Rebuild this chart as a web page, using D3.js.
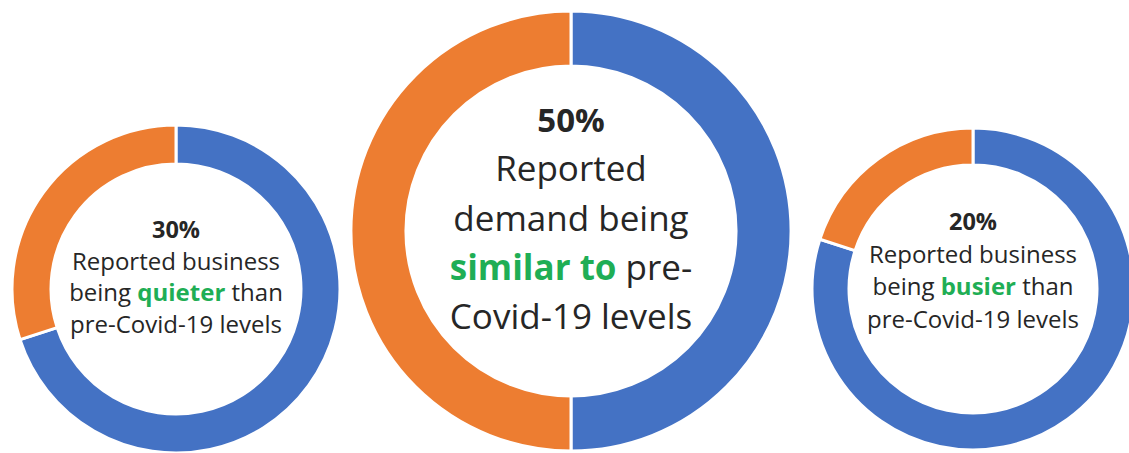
<!DOCTYPE html>
<html>
<head>
<meta charset="utf-8">
<script src="https://cdn.jsdelivr.net/npm/d3@7"></script>
<style>
  html, body { margin: 0; padding: 0; background: #ffffff; }
  svg { display: block; }
</style>
</head>
<body>
<svg id="chart" width="1129" height="453"></svg>
<script>
// Share of respondents per demand outcome (highlighted share vs the rest)
const outcomes = ["quieter", "similar", "busier"];
const highlighted = [30, 50, 20];
const rest = [70, 50, 80];
const headline = ["30%", "50%", "20%"];
// Label lines; the green keyword is wrapped in *...*
const labelLines = [
  ["Reported business", "being *quieter* than", "pre-Covid-19 levels"],
  ["Reported", "demand being", "*similar to* pre-", "Covid-19 levels"],
  ["Reported business", "being *busier* than", "pre-Covid-19 levels"]
];

const colors = { rest: "#4472C4", highlighted: "#ED7D31", keyword: "#1FAE55", text: "#262626" };

// Layout of each ring
const layout = [
  { cx: 176, cy: 289, rOuter: 164, rInner: 125, size: 24, bold: 23.5, base: 238, step: 31.5 },
  { cx: 571, cy: 231, rOuter: 220, rInner: 165, size: 35, bold: 33, base: 132, step: 49.3 },
  { cx: 973, cy: 289, rOuter: 161, rInner: 124, size: 24, bold: 23.5, base: 230, step: 32.7 }
];

const svg = d3.select("#chart");
const pie = d3.pie().sort(null).value(d => d.value);

outcomes.forEach((name, i) => {
  const L = layout[i];
  const g = svg.append("g").attr("transform", `translate(${L.cx},${L.cy})`);
  const arc = d3.arc().innerRadius(L.rInner).outerRadius(L.rOuter);
  const data = [
    { key: "rest", value: rest[i] },
    { key: "highlighted", value: highlighted[i] }
  ];
  g.selectAll("path")
    .data(pie(data))
    .join("path")
    .attr("d", arc)
    .attr("fill", d => colors[d.data.key])
    .attr("stroke", "#ffffff")
    .attr("stroke-width", 3);

  const text = svg.append("g")
    .attr("font-family", "'Open Sans', Lato, sans-serif")
    .attr("text-anchor", "middle")
    .attr("fill", colors.text);

  text.append("text")
    .attr("x", L.cx)
    .attr("y", L.base)
    .attr("font-size", L.bold)
    .attr("font-weight", 700)
    .text(headline[i]);

  labelLines[i].forEach((line, j) => {
    const t = text.append("text")
      .attr("x", L.cx)
      .attr("y", L.base + L.step * (j + 1))
      .attr("font-size", L.size);
    line.split("*").forEach((part, k) => {
      if (!part) return;
      const span = t.append("tspan").text(part);
      if (k % 2 === 1) span.attr("fill", colors.keyword).attr("font-weight", 700);
    });
  });
});
</script>
</body>
</html>
